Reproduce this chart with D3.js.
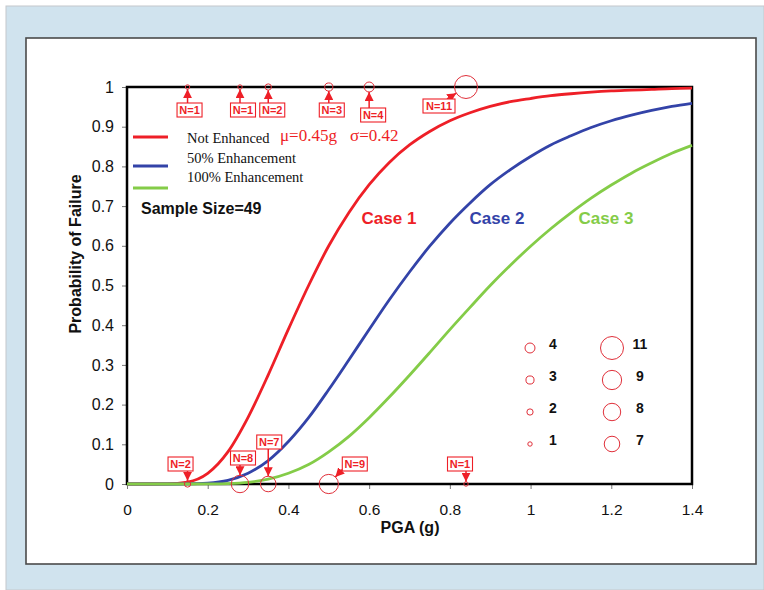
<!DOCTYPE html>
<html>
<head>
<meta charset="utf-8">
<script src="https://cdn.jsdelivr.net/npm/d3@7"></script>
<style>
  body { margin: 0; background: #fff; }
  svg { display: block; }
  .sans { font-family: "Liberation Sans", Arial, sans-serif; }
  .serif { font-family: "Liberation Serif", "Times New Roman", serif; }
</style>
</head>
<body>
<svg id="chart" width="764" height="590"></svg>
<script>
// PGA sample points (g) and probability of failure for each case
var pga = [0, 0.05, 0.1, 0.15, 0.2, 0.25, 0.3, 0.35, 0.4, 0.45, 0.5, 0.55, 0.6, 0.65, 0.7,
           0.75, 0.8, 0.85, 0.9, 0.95, 1.0, 1.05, 1.1, 1.15, 1.2, 1.25, 1.3, 1.35, 1.4];
var notEnhanced = [0, 0, 0.0002, 0.005, 0.027, 0.081, 0.168, 0.275, 0.39, 0.5, 0.6, 0.684, 0.754, 0.81, 0.854,
                   0.888, 0.915, 0.935, 0.951, 0.963, 0.971, 0.978, 0.983, 0.987, 0.99, 0.992, 0.994, 0.996, 0.997];
var enh50 = [0, 0, 0, 0.0002, 0.002, 0.009, 0.027, 0.059, 0.107, 0.167, 0.238, 0.313, 0.389, 0.464, 0.534,
             0.599, 0.657, 0.708, 0.754, 0.792, 0.825, 0.854, 0.877, 0.898, 0.915, 0.929, 0.941, 0.951, 0.959];
var enh100 = [0, 0, 0, 0, 0.0002, 0.001, 0.004, 0.012, 0.027, 0.049, 0.081, 0.12, 0.167, 0.219, 0.274,
              0.331, 0.389, 0.445, 0.5, 0.551, 0.599, 0.643, 0.683, 0.72, 0.753, 0.783, 0.809, 0.833, 0.853];

var seriesNames = ["Not Enhanced", "50% Enhancement", "100% Enhancement"];
var caseLabels = ["Case 1", "Case 2", "Case 3"];

// observed failures: PGA and sample count, at P=1 (failed) and P=0 (survived)
var failedPga = [0.15, 0.28, 0.35, 0.5, 0.6, 0.84];
var failedN = [1, 1, 2, 3, 4, 11];
var survivedPga = [0.15, 0.28, 0.35, 0.5, 0.84];
var survivedN = [2, 8, 7, 9, 1];

var sizeLegendLeft = [4, 3, 2, 1];
var sizeLegendRight = [11, 9, 8, 7];

var xTicks = [0, 0.2, 0.4, 0.6, 0.8, 1, 1.2, 1.4];
var yTicks = [0, 0.1, 0.2, 0.3, 0.4, 0.5, 0.6, 0.7, 0.8, 0.9, 1];

var RED = "#ee1f27", BLUE = "#3343a8", GREEN = "#84cc48", MARK = "#e0303a";
var colors = [RED, BLUE, GREEN];

var svg = d3.select("#chart");

// background and panel
svg.append("rect").attr("x", 6).attr("y", 6).attr("width", 758).attr("height", 584)
    .attr("fill", "#d0e3ee").attr("stroke", "#c4c8cc").attr("stroke-width", 1);
svg.append("rect").attr("x", 26).attr("y", 38).attr("width", 730).attr("height", 526)
    .attr("fill", "#fff").attr("stroke", "#4a4a4a").attr("stroke-width", 1.6);

var x = d3.scaleLinear().domain([0, 1.4]).range([127, 692]);
var y = d3.scaleLinear().domain([0, 1]).range([484, 87]);
var r = d3.scaleLinear().domain([1, 11]).range([2.2, 11.5]);

var gx = svg.append("g").attr("class", "sans").attr("transform", "translate(0,484)")
    .call(d3.axisBottom(x).tickValues(xTicks).tickFormat(function(d) { return d; })
        .tickSize(5).tickPadding(15));
var gy = svg.append("g").attr("class", "sans").attr("transform", "translate(127,0)")
    .call(d3.axisLeft(y).tickValues(yTicks).tickFormat(function(d) { return d; })
        .tickSize(5).tickPadding(8));
[gx, gy].forEach(function(g) {
    g.select(".domain").remove();
    g.selectAll(".tick line").attr("stroke", "#777");
    g.selectAll("text").attr("font-size", 15.5).attr("fill", "#111")
        .attr("font-family", "Liberation Sans, Arial, sans-serif");
});
gy.selectAll("text").attr("font-size", 16);

// plot frame
svg.append("rect").attr("x", 127).attr("y", 87).attr("width", 565).attr("height", 397)
    .attr("fill", "none").attr("stroke", "#000").attr("stroke-width", 2.5);

// curves
var line = d3.line()
    .x(function(d) { return x(d[0]); })
    .y(function(d) { return y(d[1]); })
    .curve(d3.curveMonotoneX);
[notEnhanced, enh50, enh100].forEach(function(vals, i) {
    svg.append("path")
        .datum(pga.map(function(p, j) { return [p, vals[j]]; }))
        .attr("d", line)
        .attr("fill", "none")
        .attr("stroke", colors[i])
        .attr("stroke-width", 2.8);
});

// arrowhead
svg.append("defs").append("marker")
    .attr("id", "arrow").attr("viewBox", "0 0 10 10")
    .attr("refX", 10).attr("refY", 5)
    .attr("markerUnits", "userSpaceOnUse")
    .attr("markerWidth", 9).attr("markerHeight", 9)
    .attr("orient", "auto")
  .append("path").attr("d", "M0,0L10,5L0,10Z").attr("fill", RED);

// label layout for each marker: box centre and arrow start, relative to the marker
var failedLayout = [
    { bx: 2, by: 23, ax: 0, ay: 16 },
    { bx: 3, by: 23, ax: 0, ay: 16 },
    { bx: 4, by: 23, ax: 0, ay: 16 },
    { bx: 3, by: 23, ax: 0, ay: 16 },
    { bx: 4, by: 28, ax: 0, ay: 21 },
    { bx: -27, by: 19, ax: -19, ay: 12 }
];
var survivedLayout = [
    { bx: -7, by: -20, ax: 0, ay: -14 },
    { bx: 3, by: -26, ax: 0, ay: -19 },
    { bx: 1, by: -42, ax: 0, ay: -35 },
    { bx: 26, by: -20, ax: 14, ay: -15 },
    { bx: -6, by: -20, ax: 0, ay: -14 }
];

function drawMarkers(pgas, ns, pf, layout) {
    pgas.forEach(function(p, i) {
        var px = x(p), py = y(pf), rad = r(ns[i]), L = layout[i];
        svg.append("circle").attr("cx", px).attr("cy", py).attr("r", rad)
            .attr("fill", "none").attr("stroke", MARK).attr("stroke-width", 1);
        var sx = px + L.ax, sy = py + L.ay;
        var dx = px - sx, dy = py - sy, len = Math.sqrt(dx * dx + dy * dy);
        svg.append("line")
            .attr("x1", sx).attr("y1", sy)
            .attr("x2", px - dx / len * rad).attr("y2", py - dy / len * rad)
            .attr("stroke", RED).attr("stroke-width", 1.5)
            .attr("marker-end", "url(#arrow)");
        var label = "N=" + ns[i];
        var w = label.length * 7 + 4, h = 14;
        svg.append("rect")
            .attr("x", px + L.bx - w / 2).attr("y", py + L.by - h / 2)
            .attr("width", w).attr("height", h)
            .attr("fill", "#fff").attr("stroke", RED).attr("stroke-width", 1.1);
        svg.append("text").attr("class", "sans")
            .attr("x", px + L.bx).attr("y", py + L.by + 4)
            .attr("text-anchor", "middle").attr("font-size", 11).attr("font-weight", "bold")
            .attr("fill", RED).text(label);
    });
}
drawMarkers(failedPga, failedN, 1, failedLayout);
drawMarkers(survivedPga, survivedN, 0, survivedLayout);

// series legend
var legendY = [137, 166, 188];
var legendTextY = [143, 163, 182];
seriesNames.forEach(function(name, i) {
    svg.append("line").attr("x1", 133).attr("x2", 168)
        .attr("y1", legendY[i]).attr("y2", legendY[i])
        .attr("stroke", colors[i]).attr("stroke-width", 3);
    svg.append("text").attr("class", "serif").attr("x", 187).attr("y", legendTextY[i])
        .attr("font-size", 14.5).attr("fill", "#111").text(name);
});
svg.append("text").attr("class", "serif").attr("x", 280).attr("y", 141)
    .attr("font-size", 17).attr("fill", RED).text("\u03bc=0.45g");
svg.append("text").attr("class", "serif").attr("x", 350).attr("y", 141)
    .attr("font-size", 17).attr("fill", RED).text("\u03c3=0.42");

svg.append("text").attr("class", "sans").attr("x", 141).attr("y", 214)
    .attr("font-size", 16).attr("font-weight", "bold").attr("fill", "#111")
    .text("Sample Size=49");

// case labels
var caseX = [389, 497, 606];
caseLabels.forEach(function(c, i) {
    svg.append("text").attr("class", "sans").attr("x", caseX[i]).attr("y", 224)
        .attr("text-anchor", "middle").attr("font-size", 17).attr("font-weight", "bold")
        .attr("fill", colors[i]).text(c);
});

// sample size legend
var rowY = [348, 380, 412, 444];
function sizeColumn(vals, cx, tx) {
    vals.forEach(function(n, i) {
        svg.append("circle").attr("cx", cx).attr("cy", rowY[i]).attr("r", r(n))
            .attr("fill", "none").attr("stroke", MARK).attr("stroke-width", 1);
        svg.append("text").attr("class", "sans").attr("x", tx).attr("y", rowY[i] + 1)
            .attr("text-anchor", "middle").attr("font-size", 14).attr("font-weight", "bold")
            .attr("fill", "#111").text(n);
    });
}
sizeColumn(sizeLegendLeft, 530, 553);
sizeColumn(sizeLegendRight, 612, 640);

// axis titles
svg.append("text").attr("class", "sans").attr("x", 410).attr("y", 533)
    .attr("text-anchor", "middle").attr("font-size", 16).attr("font-weight", "bold")
    .attr("fill", "#111").text("PGA (g)");
svg.append("text").attr("class", "sans")
    .attr("transform", "translate(81,254) rotate(-90)")
    .attr("text-anchor", "middle").attr("font-size", 16).attr("font-weight", "bold")
    .attr("fill", "#111").text("Probability of Failure");
</script>
</body>
</html>
